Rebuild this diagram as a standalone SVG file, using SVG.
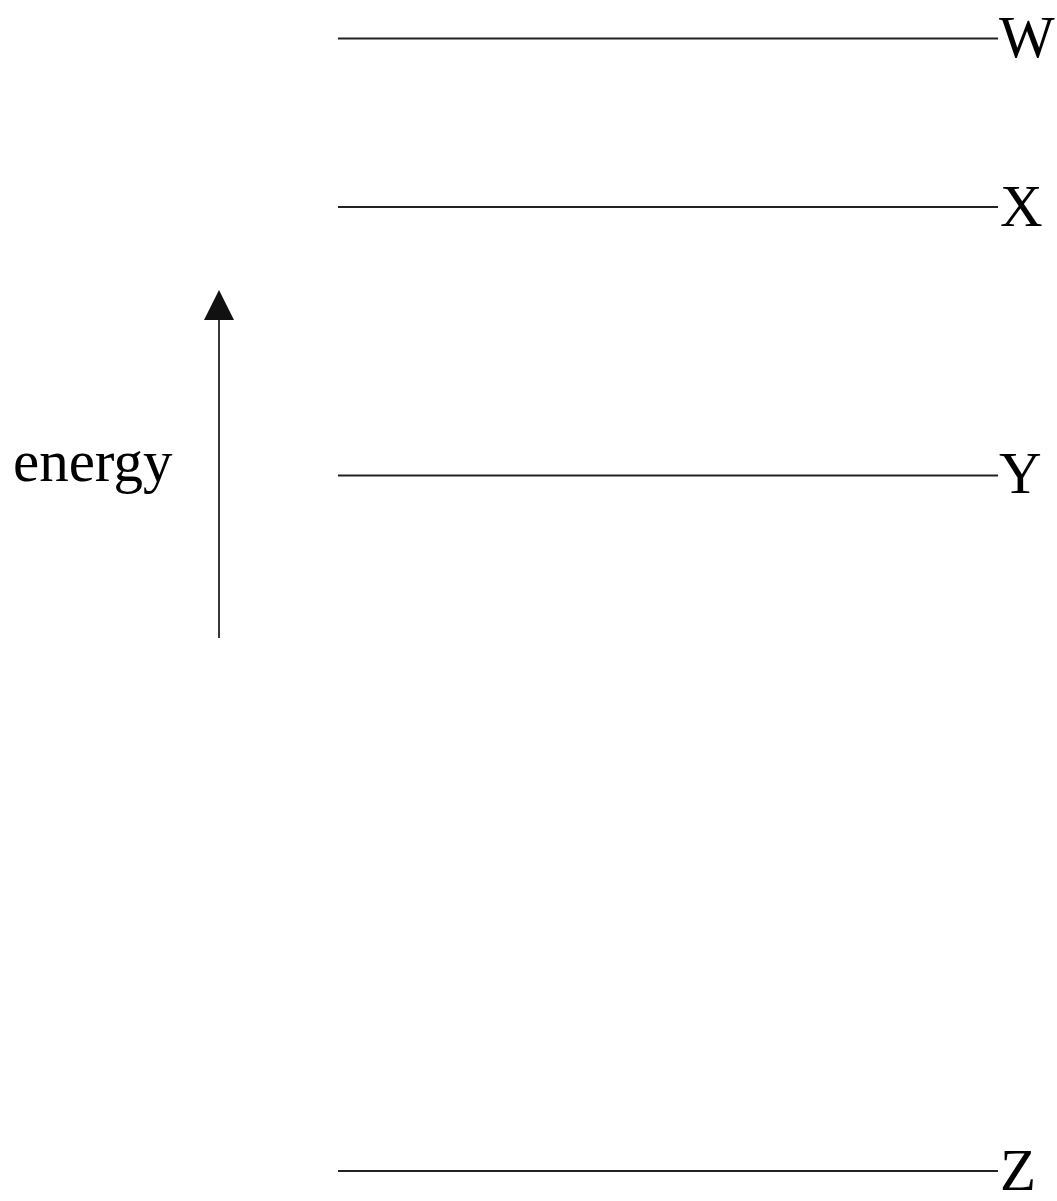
<svg xmlns="http://www.w3.org/2000/svg" width="1057" height="1201" viewBox="0 0 1057 1201">
<style>
.lvl{stroke:#222;stroke-width:1.8;fill:none}
.lbl{font-family:"Liberation Serif","Times New Roman",serif;font-size:59px;fill:#000}
</style>
<rect width="1057" height="1201" fill="#fff"/>
<g id="level-W"><line class="lvl" x1="338" y1="38.5" x2="998" y2="38.5"/><text class="lbl" x="999" y="57">W</text></g>
<g id="level-X"><line class="lvl" x1="338" y1="207" x2="998" y2="207"/><text class="lbl" x="1000" y="226">X</text></g>
<g id="level-Y"><line class="lvl" x1="338" y1="475.5" x2="998" y2="475.5"/><text class="lbl" x="999" y="493">Y</text></g>
<g id="level-Z"><line class="lvl" x1="338" y1="1171" x2="998" y2="1171"/><text class="lbl" x="1000" y="1190">Z</text></g>
<g id="energy-axis">
<line class="lvl" x1="219" y1="638" x2="219" y2="315"/>
<polygon points="219,290 234,320 204,320" fill="#111"/>
<text class="lbl" x="13" y="481">energy</text>
</g>
</svg>
